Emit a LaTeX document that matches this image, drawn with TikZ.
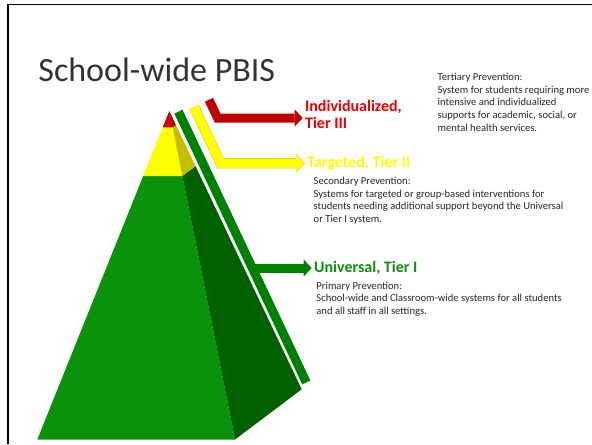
\documentclass[tikz,border=0pt]{standalone}
\usepackage{fontspec}
\setmainfont{Carlito}
\usetikzlibrary{arrows.meta,positioning,calc}

\definecolor{tipred}{RGB}{208,0,0}
\definecolor{tipredside}{RGB}{165,0,0}
\definecolor{midyel}{RGB}{255,255,0}
\definecolor{midyelside}{RGB}{196,190,0}
\definecolor{yelrim}{RGB}{240,196,0}
\definecolor{basegrn}{RGB}{10,146,10}
\definecolor{basegrnside}{RGB}{0,96,0}
\definecolor{bargrn}{RGB}{0,128,0}
\definecolor{arrred}{RGB}{192,0,0}
\definecolor{lblred}{RGB}{235,0,0}
\definecolor{lblgrn}{RGB}{16,140,16}
\definecolor{notegray}{RGB}{38,38,38}

\begin{document}
\begin{tikzpicture}[x=0.5pt, y=-0.5pt,
  tier/.style={font=\fontsize{8}{8.7}\selectfont\bfseries, align=left, inner sep=1pt, anchor=west},
  note/.style={font=\fontsize{5.3}{6.3}\selectfont, text=notegray, align=left, inner sep=0pt, anchor=north west},
  strip/.style={line width=4.5pt, -{Triangle[length=4pt, width=8.5pt, line width=0pt]}}
]
\useasboundingbox (0,0) rectangle (592,444);
\draw[line width=0.75pt] (8,444) -- (8,4.6) -- (592,4.6);

\node[anchor=base west, inner sep=0pt, font=\fontsize{17}{20}\selectfont, text=black!80] (title) at (38,82) {School-wide PBIS};

% pyramid corners
\coordinate (apex) at (169.3,111);
\coordinate (bl) at (37.3,439.5);
\coordinate (bm) at (235,439.5);
\coordinate (br) at (301.7,389.3);

% tiers: red tip down to .05, yellow down to .198, green below
\fill[basegrn] ($(apex)!.198!(bl)$) -- (bl) -- (bm) -- ($(apex)!.198!(bm)$) -- cycle;
\fill[basegrnside] ($(apex)!.198!(bm)$) -- (bm) -- (br) -- ($(apex)!.198!(br)$) -- cycle;
\fill[midyel] ($(apex)!.05!(bl)$) -- ($(apex)!.198!(bl)$) -- ($(apex)!.198!(bm)$) -- ($(apex)!.05!(bm)$) -- cycle;
\fill[midyelside] ($(apex)!.05!(bm)$) -- ($(apex)!.198!(bm)$) -- ($(apex)!.198!(br)$) -- ($(apex)!.05!(br)$) -- cycle;
\fill[tipred] (apex) -- ($(apex)!.05!(bl)$) -- ($(apex)!.05!(bm)$) -- cycle;
\fill[tipredside] (apex) -- ($(apex)!.05!(bm)$) -- ($(apex)!.05!(br)$) -- cycle;

% tier labels
\node[tier, text=lblred] (ind) at (302.7,114.5) {Individualized,\\Tier III};
\node[tier, text=midyel] (tgt) at (305,163) {Targeted, Tier II};
\node[tier, text=lblgrn] (uni) at (311.7,267.5) {Universal, Tier I};

% bent strips along the pyramid edge
\coordinate (rtop) at (208.95,99.8);
\coordinate (rbend) at (217.6,118);
\coordinate (ytop) at (194.1,107);
\coordinate (ybend) at (220.6,163.3);
\coordinate (gtop) at (178.45,111.65);
\coordinate (gbot) at (306.3,382.4);
\coordinate (gout) at (252.6,268);

\draw[strip, arrred] (rtop) -- (rbend) -- (rbend -| ind.west);
\draw[line width=5.1pt, yelrim, -{Triangle[length=4.6pt, width=9.4pt, line width=0pt]}] (ytop) -- (ybend) -- (ybend -| tgt.west);
\draw[strip, midyel] (ytop) -- (ybend) -- ($(ybend -| tgt.west)+(-0.8,0)$);
\draw[line width=4.5pt, bargrn] (gtop) -- (gbot);
\draw[strip, bargrn] (gout) -- (gout -| uni.west);

% descriptions
\node[note] (tert) at (437.3,73) {Tertiary Prevention:\\System for students requiring more\\intensive and individualized\\supports for academic, social, or\\mental health services.};
\node[note] (sec) at (313.3,177) {Secondary Prevention:\\Systems for targeted or group-based interventions for\\students needing additional support beyond the Universal\\or Tier I system.};
\node[note] (prim) at (316,281.4) {Primary Prevention:\\School-wide and Classroom-wide systems for all students\\and all staff in all settings.};
\end{tikzpicture}
\end{document}
